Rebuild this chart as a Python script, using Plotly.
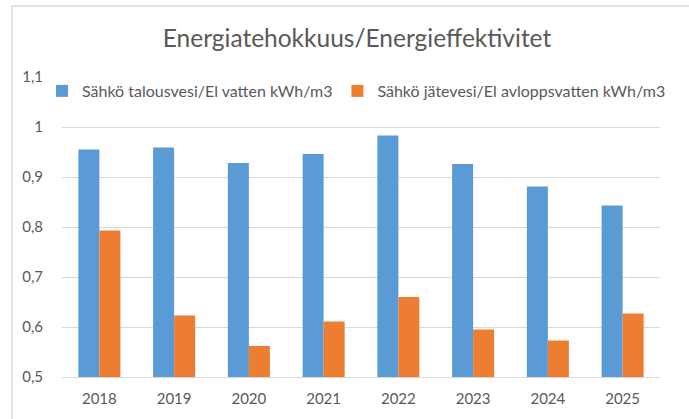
import plotly.graph_objects as go

years = ["2018", "2019", "2020", "2021", "2022", "2023", "2024", "2025"]
talousvesi = [0.955, 0.959, 0.928, 0.946, 0.983, 0.926, 0.881, 0.843]
jatevesi = [0.793, 0.623, 0.562, 0.611, 0.660, 0.595, 0.573, 0.627]
name_talous = "Sähkö talousvesi/El vatten kWh/m3"
name_jate = "Sähkö jätevesi/El avloppsvatten kWh/m3"
title_text = "Energiatehokkuus/Energieffektivitet"
y_ticks = [0.5, 0.6, 0.7, 0.8, 0.9, 1.0, 1.1]

FONT = "Lato"
TXT = "#595959"
GRID = "#D9D9D9"

W, H = 689, 419
ML, MR, MT, MB = 62, 29, 77, 42

fig = go.Figure()
fig.add_trace(go.Bar(x=years, y=talousvesi, name=name_talous,
                     marker=dict(color="#5B9BD5", line=dict(width=0))))
fig.add_trace(go.Bar(x=years, y=jatevesi, name=name_jate,
                     marker=dict(color="#ED7D31", line=dict(width=0))))

pw = W - ML - MR
ph = H - MT - MB

def px_to_paper_x(px):
    return (px - ML) / pw

def px_to_paper_y(py):
    return (H - MB - py) / ph

fig.add_shape(type="rect", xref="paper", yref="paper",
              x0=px_to_paper_x(12), x1=px_to_paper_x(700),
              y0=px_to_paper_y(430), y1=px_to_paper_y(6),
              line=dict(color=GRID, width=1.3), fillcolor="rgba(0,0,0,0)", layer="below")

fig.update_layout(
    width=W, height=H,
    margin=dict(l=ML, r=MR, t=MT, b=MB, autoexpand=False),
    paper_bgcolor="white", plot_bgcolor="white",
    separators=", ",
    barmode="group", bargap=0.438, bargroupgap=0,
    font=dict(family=FONT, color=TXT),
    title=dict(text=title_text, x=px_to_paper_x(357), xref="paper", xanchor="center",
               y=1 - 38 / H, yanchor="middle",
               font=dict(family=FONT, size=24.5, color=TXT)),
    legend=dict(orientation="h", x=px_to_paper_x(42), xanchor="left",
                y=px_to_paper_y(74), yanchor="top",
                font=dict(family=FONT, size=16, color=TXT),
                bgcolor="rgba(0,0,0,0)", itemclick=False),
    xaxis=dict(showgrid=False, showline=True, linecolor=GRID, linewidth=1.3,
               tickfont=dict(family=FONT, size=15, color=TXT),
               ticks="", ticklabelstandoff=8),
    yaxis=dict(range=[0.5, 1.1], tickvals=y_ticks, tickformat=".1~f",
               showgrid=True, gridcolor=GRID, gridwidth=1.3, zeroline=False,
               showline=False, ticks="", ticklabelstandoff=18,
               tickfont=dict(family=FONT, size=15, color=TXT)),
)

fig.write_html("out.html", config={"displayModeBar": False},
               post_script="document.body.style.margin='0';")
